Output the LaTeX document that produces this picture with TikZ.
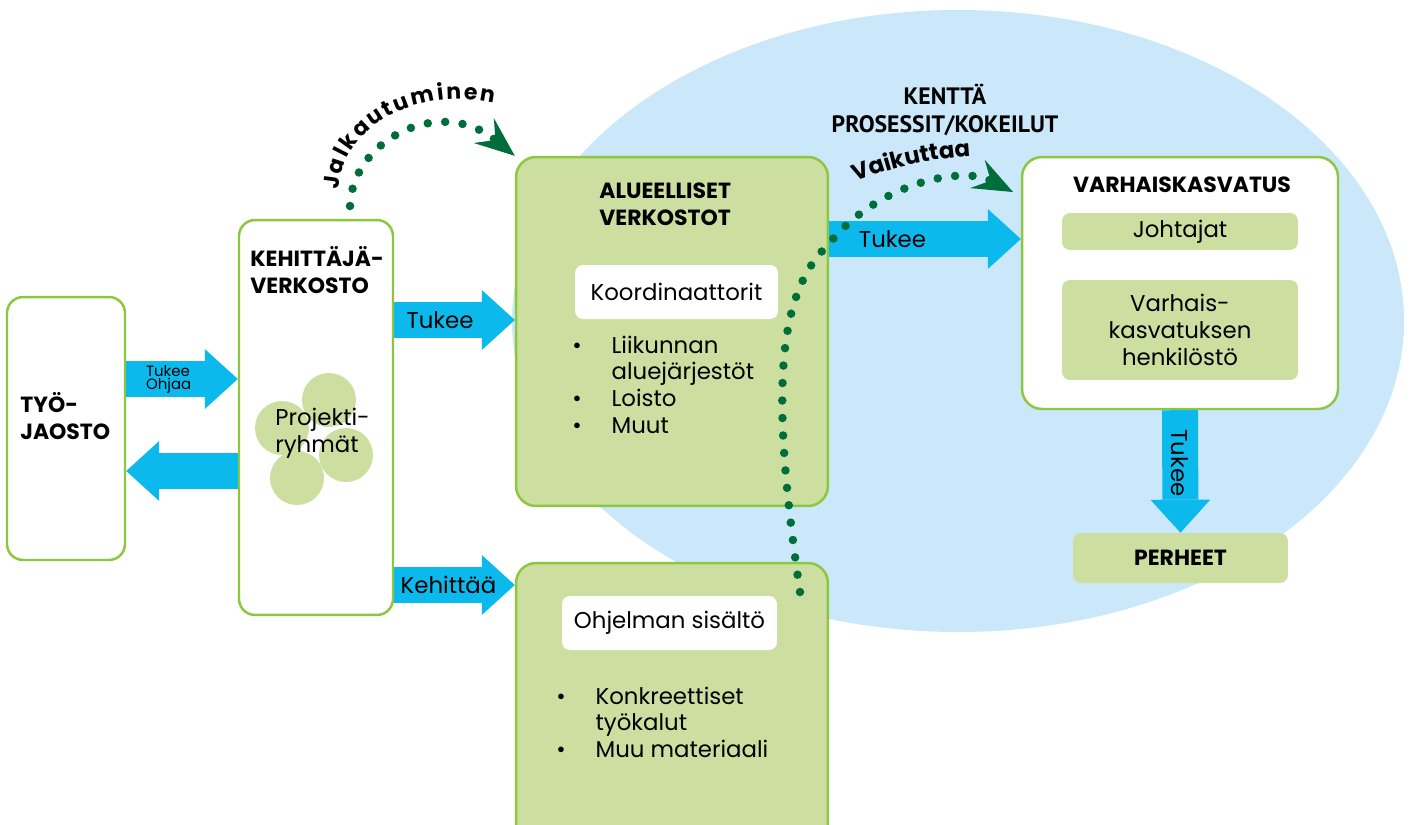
\documentclass[tikz,border=0pt]{standalone}
\usepackage{fontspec}
\setmainfont{Poppins}
\newfontfamily\headfont{PT Sans}
\usetikzlibrary{positioning, arrows.meta, shapes.geometric, decorations.text}

\definecolor{boxline}{RGB}{141,198,63}
\definecolor{boxfill}{RGB}{205,223,160}
\definecolor{arrowblue}{RGB}{12,185,237}
\definecolor{fieldblue}{RGB}{202,232,249}
\definecolor{dotgreen}{RGB}{0,110,58}

\tikzset{
  bigbox/.style={draw=boxline, line width=1.4pt, rounded corners=0.32cm},
  whitebox/.style={bigbox, fill=white},
  greenbox/.style={bigbox, fill=boxfill},
  tagbox/.style={fill=#1, rounded corners=0.16cm},
  title/.style={font=\fontsize{12.5}{15.5}\selectfont\bfseries, align=left, inner sep=0pt},
  body/.style={font=\fontsize{13}{15.3}\selectfont},
  bluearrow/.style={arrowblue, line width=0.72cm, -{Triangle[width=1.2cm, length=0.66cm, line width=0pt]}},
  dotline/.style={dotgreen, line width=0.17cm, line cap=round, dash pattern=on 0pt off 0.35cm,
    -{Stealth[length=0.8cm, width=0.64cm, inset=0.3cm, line width=0pt]}},
}

\begin{document}
\begin{tikzpicture}[x=0.02cm, y=-0.02cm]
    \useasboundingbox (0,0) rectangle (1410,825);
    % kenttä
    \fill[fieldblue] (958,321) ellipse [x radius=446, y radius=311];
    \node (kentta) at (945,110) [font=\headfont\fontsize{13.5}{16}\selectfont\bfseries, align=center] {KENTTÄ\\PROSESSIT/KOKEILUT};

    % boxes
    \node (tyo) at (66,428.5) [whitebox, minimum width=2.36cm, minimum height=5.26cm] {};
    \node (kehit) at (316,417.5) [whitebox, minimum width=3.08cm, minimum height=7.9cm] {};
    \node (alue) at (672,331.5) [greenbox, rounded corners=0.4cm, minimum width=6.24cm, minimum height=6.98cm] {};
    \node (ohj) at (672,706.5) [greenbox, rounded corners=0.4cm, minimum width=6.24cm, minimum height=5.74cm] {};
    \node (varh) at (1180,283) [whitebox, rounded corners=0.4cm, minimum width=6.32cm, minimum height=5.04cm] {};

    \node (tyoT) [title, anchor=west] at (20,416) {TYÖ-\\JAOSTO};
    \node (kehitT) [title, anchor=west] at (250,270) {KEHITTÄJÄ-\\VERKOSTO};
    \node (alueT) [title, anchor=west] at (599,204) {ALUEELLISET\\VERKOSTOT};
    \node (varhT) [title] at (1182,185) {VARHAISKASVATUS};

    % projektiryhmät
    \fill[boxfill] (329,400) circle [radius=27];
    \fill[boxfill] (282,428) circle [radius=27];
    \fill[boxfill] (346,455) circle [radius=27];
    \fill[boxfill] (297,478) circle [radius=27];
    \node (proj) [body, anchor=west, inner sep=0pt, align=left] at (275,433) {Projekti-\\ryhmät};

    % inner boxes
    \node (koord) at (676.5,292) [tagbox=white, minimum width=4.06cm, minimum height=1.08cm, body] {Koordinaattorit};
    \node (ohjs) at (669.5,623) [tagbox=white, minimum width=4.3cm, minimum height=1.08cm, body] {Ohjelman sisältö};
    \node (johta) at (1180,231.5) [tagbox=boxfill, minimum width=4.72cm, minimum height=0.74cm, body] {Johtajat};
    \node (vhenk) at (1180,330) [tagbox=boxfill, minimum width=4.72cm, minimum height=2cm, body, align=center] {Varhais-\\kasvatuksen\\henkilöstö};
    \node (perh) at (1180.5,558) [tagbox=boxfill, minimum width=4.3cm, minimum height=1cm, title] {PERHEET};

    \node (alueL) [body, anchor=base west, inner sep=0pt] at (572,353) {\begin{tabular}[t]{@{}l@{\hspace{17pt}}l@{}}
      \textbullet & Liikunnan\\ & aluejärjestöt\\ \textbullet & Loisto\\ \textbullet & Muut\end{tabular}};
    \node (ohjL) [body, anchor=base west, inner sep=0pt] at (556,704) {\begin{tabular}[t]{@{}l@{\hspace{17pt}}l@{}}
      \textbullet & Konkreettiset\\ & työkalut\\ \textbullet & Muu materiaali\end{tabular}};

    % blue arrows
    \draw[bluearrow] (tyo.east |- 0,379) -- (kehit.west |- 0,379)
        node[pos=0.38, black, font=\fontsize{8.5}{7.5}\selectfont, align=left] {Tukee\\Ohjaa};
    \draw[bluearrow] (kehit.west |- 0,471) -- (tyo.east |- 0,471);
    \draw[bluearrow] (kehit.east |- 0,320) -- (alue.west |- 0,320) node[pos=0.38, black, body] {Tukee};
    \draw[bluearrow] (kehit.east |- 0,585) -- (ohj.west |- 0,585) node[pos=0.45, black, body] {Kehittää};
    \draw[bluearrow] (alue.east |- 0,239) -- (varh.west |- 0,239) node[pos=0.33, black, body] {Tukee};
    \draw[bluearrow] (varh.south) -- (perh.north) node[pos=0.43, black, body, rotate=-90] {Tukee};

    % dotted influence lines
    \coordinate (jalkaA) at (350,206);
    \draw[dotline] (jalkaA) .. controls (352,140) and (440,95) .. (alue.north west);
    \path[decorate, decoration={text along path, text align={fit to path},
        text={|\fontsize{12.5}{15}\selectfont\bfseries|Jalkautuminen}}]
        (339,190) .. controls (343,120) and (425,88) .. (494,103);

    \coordinate (vaikA) at (800,592);
    \coordinate (vaikB) at (1013,192);
    \draw[dotline] (vaikA) .. controls (775,420) and (770,300) .. (828,245)
        .. controls (875,185) and (960,165) .. (vaikB);
    \path[decorate, decoration={text along path, text align=left,
        text={|\fontsize{13}{15}\selectfont\bfseries|Vaikuttaa}}]
        (856,182) .. controls (890,168) and (930,158) .. (980,156);
\end{tikzpicture}
\end{document}
